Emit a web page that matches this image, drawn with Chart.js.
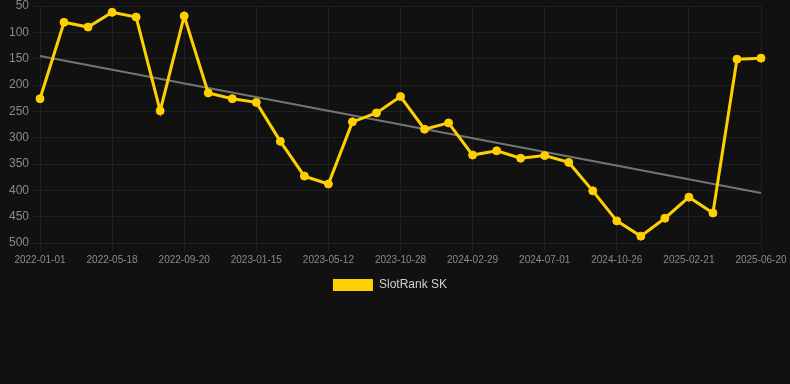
<!DOCTYPE html>
<html>
<head>
<meta charset="utf-8">
<script src="https://cdn.jsdelivr.net/npm/chart.js@4"></script>
<style>
  html, body { margin: 0; padding: 0; background: #111111; }
  #wrap { width: 790px; height: 301px; }
</style>
</head>
<body>
<div id="wrap"><canvas id="rank_chart"></canvas></div>
<script>
const dates = [
    '2022-01-01', '2022-02-15', '2022-04-01', '2022-05-18', '2022-07-02', '2022-08-05',
    '2022-09-20', '2022-11-05', '2022-12-01', '2023-01-15', '2023-02-28', '2023-04-01',
    '2023-05-12', '2023-07-01', '2023-09-10', '2023-10-28', '2023-12-10', '2024-01-20',
    '2024-02-29', '2024-04-15', '2024-05-20', '2024-07-01', '2024-08-15', '2024-09-20',
    '2024-10-26', '2024-12-05', '2025-01-15', '2025-02-21', '2025-04-01', '2025-05-10',
    '2025-06-20'
];
const rank_values = [
    226, 81, 90, 62, 71, 249, 69, 215, 226, 233, 307,
    373, 388, 270, 253, 222, 284, 272, 333, 325, 339,
    334, 347, 401, 458, 487, 453, 413, 443, 151, 149
];
const trend_start = 145;
const trend_end = 405;

const trend_values = dates.map(function (d, i) {
    if (i === 0) return trend_start;
    if (i === dates.length - 1) return trend_end;
    return null;
});

const data = {
    labels: dates,
    datasets: [{
        label: 'SlotRank SK',
        data: rank_values,
        borderColor: '#FFD000',
        backgroundColor: '#FFD000',
        borderWidth: 3,
        pointRadius: 4,
        pointBorderWidth: 1,
        pointHoverRadius: 5,
        tension: 0
    }, {
        label: 'trend',
        data: trend_values,
        borderColor: 'rgba(150, 150, 150, 0.75)',
        borderWidth: 2,
        pointRadius: 0,
        spanGaps: true,
        fill: false
    }]
};

const config = {
    type: 'line', data: data, options: {
        responsive: true,
        maintainAspectRatio: false,
        animation: false,
        layout: { padding: { left: 0, right: 10, top: 0, bottom: 0 } },
        scales: {
            y: {
                reverse: true, min: 50, max: 500,
                ticks: {
                    stepSize: 50, color: '#8a8a8a', font: { size: 12 }
                },
                grid: { color: 'rgba(255,255,255,0.06)' },
                border: { display: false },
                afterFit: function (scale) {
                    scale.width = 40;
                    scale.paddingTop = 6;
                }
            },
            x: {
                ticks: {
                    autoSkip: false, maxRotation: 0, color: '#8a8a8a', font: { size: 10 },
                    callback: function (val, index) {
                        return index % 3 === 0 ? this.getLabelForValue(val) : '';
                    }
                },
                grid: {
                    color: function (ctx) {
                        return ctx.index % 3 === 0 ? 'rgba(255,255,255,0.06)' : 'rgba(0,0,0,0)';
                    }
                },
                border: { display: false },
                afterFit: function (scale) {
                    scale.paddingRight = 29;
                }
            }
        },
        plugins: {
            legend: {
                position: 'bottom',
                labels: {
                    color: '#d0d0d0', font: { size: 12 }, boxWidth: 40, boxHeight: 12,
                    filter: function (item) { return item.text !== 'trend'; },
                    generateLabels: function (chart) {
                        const items = Chart.defaults.plugins.legend.labels.generateLabels(chart);
                        items.forEach(function (it) { it.lineWidth = 0; });
                        return items;
                    }
                }
            },
            tooltip: { enabled: false }
        }
    }
};

new Chart(document.getElementById('rank_chart'), config);
</script>
</body>
</html>
